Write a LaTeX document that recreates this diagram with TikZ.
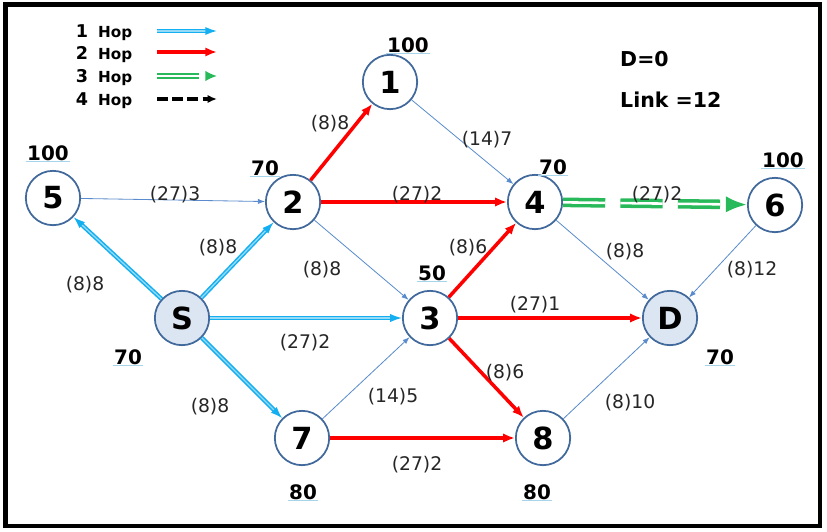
\documentclass[tikz,border=0pt]{standalone}
\usepackage{fontspec}
\setmainfont{DejaVu Sans}
\usetikzlibrary{arrows.meta}
\definecolor{nodeline}{RGB}{65,105,155}
\definecolor{nodefill}{RGB}{220,230,242}
\definecolor{hopone}{RGB}{20,175,240}
\definecolor{hoptwo}{RGB}{255,0,0}
\definecolor{hopthree}{RGB}{40,185,90}
\definecolor{linkblue}{RGB}{90,140,205}
\definecolor{ulblue}{RGB}{165,212,235}
\tikzset{
    station/.style = {
        draw=nodeline,
        shape=circle,
        fill=white,
        minimum size=1.63cm,
        inner sep=0pt,
        line width=1.5pt,
        font=\bfseries\fontsize{26}{28}\selectfont
    },
    endpoint/.style = {
        station,
        fill=nodefill
    },
    weight/.style = {
        inner sep=1pt,
        font=\bfseries\fontsize{17}{19}\selectfont
    },
    cost/.style = {
        inner sep=0pt,
        text=black!85,
        font=\fontsize{16}{18}\selectfont
    },
    info/.style = {
        anchor=base west,
        inner sep=0pt,
        font=\bfseries\fontsize{17.5}{20}\selectfont
    },
    legnum/.style = {
        anchor=base,
        inner sep=0pt,
        font=\bfseries\fontsize{15}{16}\selectfont
    },
    leghop/.style = {
        anchor=base west,
        inner sep=0pt,
        font=\bfseries\fontsize{13}{14}\selectfont
    },
    link/.style = {
        draw=linkblue,
        line width=0.7pt,
        -{Latex[length=6pt,width=4.5pt]}
    },
    onehop/.style = {
        draw=hopone,
        double=hopone!45,
        line width=1.3pt,
        double distance=1.1pt,
        -{Latex[length=10pt,width=7pt]}
    },
    twohop/.style = {
        draw=hoptwo,
        line width=3pt,
        -{Latex[length=10pt,width=8pt]}
    },
    threehop/.style = {
        draw=hopthree,
        double=white,
        line width=3pt,
        double distance=2.2pt,
        dash pattern=on 36pt off 13pt,
        -{Latex[length=18pt,width=14pt]}
    },
    fourhop/.style = {
        draw=black,
        line width=3pt,
        dash pattern=on 9pt off 4pt,
        -{Latex[length=8pt,width=7pt]}
    },
}

\begin{document}
\begin{tikzpicture}[x=0.03cm, y=-0.03cm]
    \useasboundingbox (0,0) rectangle (827,532);
    \draw[line width=4.2pt] (5.5,4.5) rectangle (820,526);

    % legend
    \node[legnum] (leg1num) at (82,37) {1};
    \node[leghop] (leg1hop) at (98,37) {Hop};
    \node[legnum] (leg2num) at (82,59) {2};
    \node[leghop] (leg2hop) at (98,59) {Hop};
    \node[legnum] (leg3num) at (82,82) {3};
    \node[leghop] (leg3hop) at (98,82) {Hop};
    \node[legnum] (leg4num) at (82,105) {4};
    \node[leghop] (leg4hop) at (98,105) {Hop};
    \coordinate (leg1a) at (157,31);
    \coordinate (leg1b) at (217,31);
    \coordinate (leg2a) at (157,52);
    \coordinate (leg2b) at (217,52);
    \coordinate (leg3a) at (157,76);
    \coordinate (leg3b) at (217,76);
    \coordinate (leg4a) at (157,99);
    \coordinate (leg4b) at (217,99);
    \path[draw, onehop] (leg1a) -- (leg1b);
    \path[draw, twohop] (leg2a) -- (leg2b);
    \path[draw, threehop, line width=1.6pt, double distance=1.2pt, -{Latex[length=10pt,width=9pt]}] (leg3a) -- (leg3b);
    \path[draw, fourhop] (leg4a) -- (leg4b);

    \node[info] (dist) at (620,66) {D=0};
    \node[info] (links) at (620,107) {Link =12};

    % stations
    \node[station] (n5) at (53,198) {5};
    \node[station] (n2) at (293,202) {2};
    \node[station] (n1) at (390,82) {1};
    \node[station] (n4) at (535,202) {4};
    \node[station] (n6) at (775,205) {6};
    \node[endpoint] (S) at (182,318) {S};
    \node[station] (n3) at (430,318) {3};
    \node[endpoint] (D) at (670,318) {D};
    \node[station] (n7) at (302,438) {7};
    \node[station] (n8) at (543,438) {8};

    % weights
    \node[weight] (w5) at (48,153) {100};
    \node[weight] (w2) at (265,168) {70};
    \node[weight] (w1) at (408,45) {100};
    \node[weight] (w4) at (553,167) {70};
    \node[weight] (w6) at (783,160) {100};
    \node[weight] (w3) at (432,273) {50};
    \node[weight] (wS) at (128,357) {70};
    \node[weight] (wD) at (720,357) {70};
    \node[weight] (w7) at (303,492) {80};
    \node[weight] (w8) at (537,492) {80};
    \foreach \w in {w5,w2,w1,w4,w6,w3,wS,wD,w7,w8}
        \draw[ulblue, line width=0.8pt] (\w.south west) -- (\w.south east);

    % links
    \path[draw, link] (n5) -- (n2);
    \path[draw, link] (n1) -- (n4);
    \path[draw, link] (n2) -- (n3);
    \path[draw, link] (n7) -- (n3);
    \path[draw, link] (n4) -- (D);
    \path[draw, link] (n6) -- (D);
    \path[draw, link] (n8) -- (D);

    \path[draw, onehop] (S) -- (n5);
    \path[draw, onehop] (S) -- (n2);
    \path[draw, onehop] (S) -- (n3);
    \path[draw, onehop] (S) -- (n7);

    \path[draw, twohop] (n2) -- (n1);
    \path[draw, twohop] (n2) -- (n4);
    \path[draw, twohop] (n3) -- (n4);
    \path[draw, twohop] (n3) -- (D);
    \path[draw, twohop] (n3) -- (n8);
    \path[draw, twohop] (n7) -- (n8);

    \path[draw, threehop] (n4) -- (n6);

    % costs
    \node[cost] (c52) at (175,195) {(27)3};
    \node[cost] (cS5) at (85,285) {(8)8};
    \node[cost] (cS2) at (218,248) {(8)8};
    \node[cost] (c21) at (330,124) {(8)8};
    \node[cost] (c14) at (487,140) {(14)7};
    \node[cost] (c24) at (417,195) {(27)2};
    \node[cost] (c23) at (322,270) {(8)8};
    \node[cost] (c34) at (468,248) {(8)6};
    \node[cost] (cS3) at (305,343) {(27)2};
    \node[cost] (c3D) at (535,305) {(27)1};
    \node[cost] (c38) at (505,373) {(8)6};
    \node[cost] (cS7) at (210,407) {(8)8};
    \node[cost] (c73) at (393,397) {(14)5};
    \node[cost] (c78) at (417,465) {(27)2};
    \node[cost] (c8D) at (630,403) {(8)10};
    \node[cost] (c46) at (657,195) {(27)2};
    \node[cost] (c4D) at (625,252) {(8)8};
    \node[cost] (c6D) at (752,270) {(8)12};
\end{tikzpicture}
\end{document}
